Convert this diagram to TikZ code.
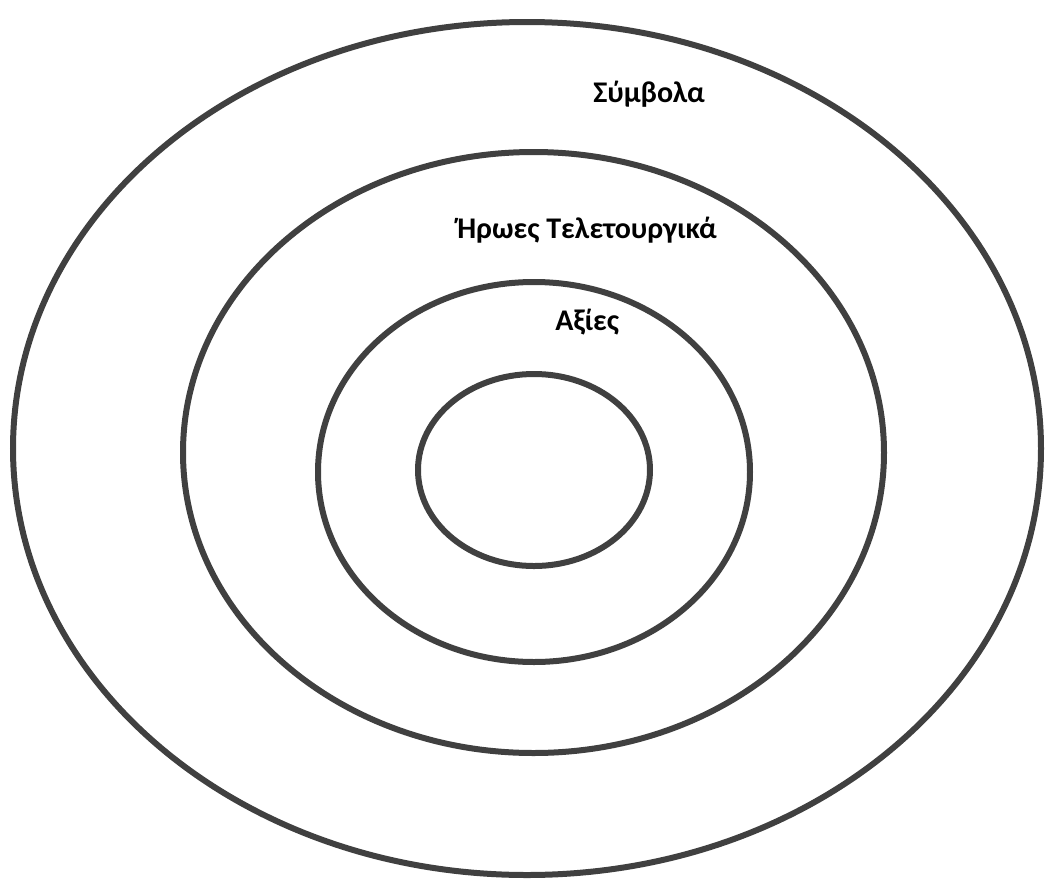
\documentclass[tikz,border=0pt]{standalone}
\usepackage{fontspec}
\setmainfont{Carlito}
\usepackage{tikz}
\definecolor{ringGray}{HTML}{404040}
\tikzset{
  % the four layers, drawn as plain outlines
  ring/.style={draw=ringGray, line width=4.5pt},
  % layer labels
  lbl/.style={font=\fontsize{22.5}{27}\selectfont\bfseries, text=black,
    inner sep=0pt, anchor=base west},
}
\begin{document}
\begin{tikzpicture}[x=0.75pt,y=-0.75pt]
  \useasboundingbox (0,0) rectangle (1047,879);
  \draw[ring] (527,448.5) ellipse [x radius=514, y radius=426.5];
  \draw[ring] (533.5,452.5) ellipse [x radius=350.5, y radius=300.5];
  \draw[ring] (534,472) ellipse [x radius=216, y radius=190];
  \draw[ring] (534,470) ellipse [x radius=116, y radius=96];
  \node[lbl] (symb) at (593,102) {Σύμβολα};
  \node[lbl] (hero) at (457,238) {Ήρωες Τελετουργικά};
  \node[lbl] (axie) at (555,330) {Αξίες};
\end{tikzpicture}
\end{document}
